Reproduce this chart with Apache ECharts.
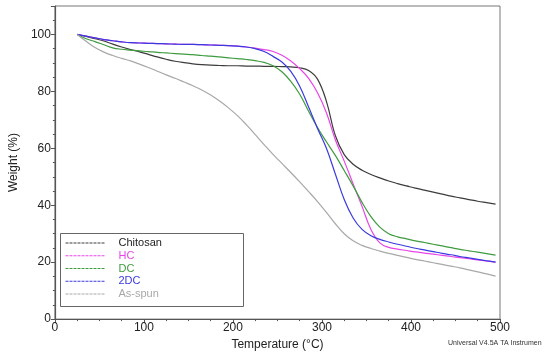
<!DOCTYPE html>
<html><head><meta charset="utf-8">
<script src="https://cdn.jsdelivr.net/npm/echarts@6/dist/echarts.min.js"></script>
<style>html,body{margin:0;padding:0;background:#fff}#c{width:550px;height:356px}</style>
</head><body><div id="c"></div>
<script>
const seriesNames = ['Chitosan','HC','DC','2DC','As-spun'];
const xTicks = [0,100,200,300,400,500];
const yTicks = [0,20,40,60,80,100];
// temperatures (°C), every 10 degrees from 25 to 495
const temps = [25,35,45,55,65,75,85,95,105,115,125,135,145,155,165,175,185,195,205,215,225,235,245,255,265,275,285,295,305,315,325,335,345,355,365,375,385,395,405,415,425,435,445,455,465,475,485,495];

const chitosan = [100,99.3,98.5,97.7,96.6,95.6,94.7,93.9,93.0,92.1,91.3,90.6,90.1,89.7,89.4,89.2,89.1,89.0,89.0,88.9,88.9,88.8,88.8,88.7,88.6,88.3,87.3,84.3,76.5,64.5,57.8,54.4,52.3,50.8,49.6,48.5,47.6,46.8,46.0,45.3,44.6,43.9,43.2,42.6,42.0,41.4,40.9,40.4];
const hc = [100,99.4,98.8,98.2,97.8,97.4,97.1,97.0,96.9,96.8,96.7,96.6,96.5,96.5,96.4,96.3,96.2,96.1,95.9,95.6,95.2,94.7,94.0,92.7,90.7,88.0,84.6,79.5,72.5,63.0,55.5,47.5,39.6,31.5,26.8,25.2,24.6,24.1,23.6,23.2,22.8,22.4,22.0,21.6,21.2,20.8,20.4,20.0];
const dc = [100,98.5,97.5,96.4,95.3,94.8,94.5,94.2,94.0,93.7,93.5,93.3,93.1,92.9,92.6,92.4,92.1,91.8,91.5,91.2,90.8,90.2,89.0,86.9,83.5,79.0,73.0,67.3,62.3,57.5,52.2,46.8,41.0,36.0,32.3,30.0,28.9,28.2,27.5,26.9,26.3,25.7,25.1,24.5,24.0,23.5,23.0,22.5];
const dc2 = [100,99.4,98.8,98.2,97.8,97.4,97.1,97.0,96.9,96.8,96.7,96.6,96.5,96.5,96.4,96.3,96.2,96.1,95.9,95.6,95.0,94.0,92.3,90.3,87.0,81.8,74.5,67.0,60.0,51.0,42.0,35.5,31.5,29.3,28.0,27.1,26.3,25.6,24.9,24.3,23.7,23.1,22.6,22.0,21.5,21.0,20.5,20.0];
const asSpun = [100,97.6,95.4,93.8,92.6,91.6,90.7,89.6,88.4,87.1,85.8,84.6,83.3,82.0,80.5,78.7,76.6,74.2,71.5,68.3,64.8,61.3,57.9,54.7,51.5,48.2,44.8,41.3,37.5,33.5,30.0,27.5,25.9,24.8,23.9,23.1,22.4,21.7,21.0,20.4,19.8,19.2,18.6,18.0,17.3,16.6,15.9,15.1];

const dataSets = [chitosan, hc, dc, dc2, asSpun];
const colors = ['#3c3c3c','#e845e8','#3f9b3f','#3a3ae0','#a8a8a8'];

const font = 'Liberation Sans, Arial, sans-serif';
const chart = echarts.init(document.getElementById('c'));
const axisLine = {show:true, lineStyle:{color:'#555', width:1.2}};
chart.setOption({
  animation:false,
  grid:{left:49, right:50, top:6, bottom:36, show:true, borderColor:'#777', borderWidth:1},
  xAxis:[
    {type:'value', min:0, max:500, interval:100, axisLine,
     axisTick:{show:true, length:4, lineStyle:{color:'#555'}},
     splitLine:{show:false},
     axisLabel:{color:'#222', fontSize:12, fontFamily:font, margin:3,
       formatter:v=> xTicks.includes(v)? String(v):''},
     name:'Temperature (°C)', nameLocation:'middle', nameGap:17,
     nameTextStyle:{color:'#222', fontSize:12, fontFamily:font}},
    {type:'value', min:0, max:500, interval:25, position:'bottom', axisLine:{show:false},
     axisTick:{show:true, length:2, lineStyle:{color:'#555'}}, axisLabel:{show:false}, splitLine:{show:false}}
  ],
  yAxis:[
    {type:'value', min:0, max:110, interval:20, axisLine,
     axisTick:{show:true, length:4, lineStyle:{color:'#555'}},
     splitLine:{show:false},
     axisLabel:{color:'#222', fontSize:12, fontFamily:font, margin:4,
       formatter:v=> yTicks.includes(v)? String(v):''},
     name:'Weight (%)', nameLocation:'middle', nameGap:30,
     nameTextStyle:{color:'#222', fontSize:12, fontFamily:font}},
    {type:'value', min:0, max:110, interval:5, position:'left', axisLine:{show:false},
     axisTick:{show:true, length:2, lineStyle:{color:'#555'}}, axisLabel:{show:false}, splitLine:{show:false}}
  ],
  legend:{
    orient:'vertical', left:65, top:237, padding:0, itemGap:0.75,
    itemWidth:40, itemHeight:12,
    itemStyle:{opacity:0},
    lineStyle:{type:[3,1], width:1, opacity:1},
    data: seriesNames.map((n,i)=>({name:n, textStyle:{color: i===0?'#222':colors[i], fontSize:11, fontFamily:font, padding:[0,0,0,8], lineHeight:12}}))
  },
  graphic:[
    {type:'rect', shape:{x:60.5, y:233.5, width:183, height:73}, style:{fill:null, stroke:'#666', lineWidth:1}, z:1},
    {type:'text', left:448, top:340, style:{text:'Universal V4.5A TA Instrumen', fill:'#333', font:'7px '+font}}
  ],
  series: seriesNames.map((n,i)=>({
    name:n, type:'line', data:temps.map((t,k)=>[t, dataSets[i][k]]), symbol:'none', smooth:0.4,
    lineStyle:{color:colors[i], width:1.2}, itemStyle:{color:colors[i]}, z:3
  }))
});
</script></body></html>
